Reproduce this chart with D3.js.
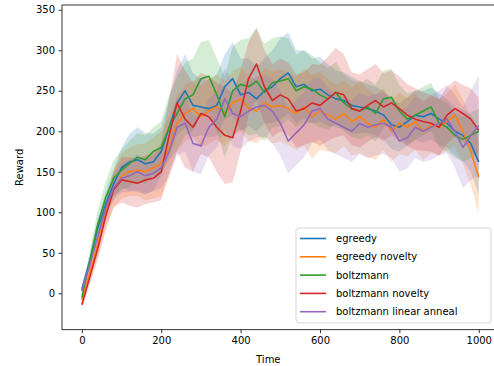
<!DOCTYPE html>
<html>
<head>
<meta charset="utf-8">
<script src="https://cdn.jsdelivr.net/npm/d3@7"></script>
<style>
  body { margin: 0; background: #fff; }
  svg text { font-family: "DejaVu Sans", sans-serif; }
</style>
</head>
<body>
<svg id="chart" width="494" height="366"></svg>
<script>
// time steps (every 20)
const steps = d3.range(0, 1001, 20);

const seriesNames = ["egreedy", "egreedy novelty", "boltzmann", "boltzmann novelty", "boltzmann linear anneal"];
const colors = ["#1f77b4", "#ff7f0e", "#2ca02c", "#d62728", "#9467bd"];

// mean reward
const egreedy = [5,40,80,110,135,155,162,165,160,162,175,205,235,250,232,230,228,232,255,265,245,248,240,250,255,265,272,255,258,250,252,245,240,238,232,230,228,225,220,208,205,212,220,218,222,215,210,200,195,185,162];
const egreedyNovelty = [-8,25,60,100,128,145,150,152,150,155,160,180,210,222,228,218,225,230,222,235,240,228,225,235,230,232,228,222,230,218,225,220,215,222,212,218,210,205,215,200,210,205,212,200,208,205,212,220,200,175,143];
const boltzmann = [-5,40,85,118,142,152,160,168,165,175,180,205,222,240,245,265,268,245,218,250,258,255,262,248,260,262,265,250,255,252,245,240,248,235,228,225,230,222,240,242,225,215,220,225,230,210,205,195,190,195,200];
const boltzmannNovelty = [-14,20,55,95,128,140,138,136,140,142,150,195,235,215,205,222,218,205,195,192,225,265,283,255,238,245,240,225,228,235,232,240,248,245,228,225,232,238,230,235,228,220,215,212,210,205,220,228,222,215,201];
const boltzmannLinear = [3,35,70,105,130,142,145,150,145,148,155,175,205,210,185,182,205,215,240,222,218,225,230,232,225,210,188,198,208,225,228,215,210,205,200,210,205,208,210,205,188,192,205,200,205,210,215,200,180,195,207];

// half width of the shaded band
const egreedySpread = [4,8,12,15,18,25,35,40,38,35,30,35,40,45,40,35,35,38,40,45,45,42,40,40,45,50,50,45,42,40,40,38,35,35,35,32,30,30,30,30,30,30,30,32,32,32,30,30,32,35,40];
const egreedyNoveltySpread = [5,10,14,18,22,28,30,32,35,38,40,38,35,35,35,38,40,40,40,40,40,40,40,42,45,45,45,45,48,52,48,45,42,40,42,45,42,40,38,38,38,36,35,35,35,35,35,38,40,42,45];
const boltzmannSpread = [5,12,18,20,22,25,28,30,30,30,32,40,45,45,45,45,45,45,50,55,55,60,65,60,55,55,50,45,45,42,40,38,38,35,35,35,35,35,35,35,32,32,30,30,30,30,30,28,28,28,28];
const boltzmannNoveltySpread = [6,10,14,18,22,28,30,30,30,30,35,45,60,60,55,50,50,55,60,55,50,45,45,45,45,45,45,45,45,48,50,52,55,50,45,45,45,45,42,40,40,38,38,36,35,35,35,35,35,38,40];
const boltzmannLinearSpread = [5,8,10,12,15,18,20,22,22,22,25,30,35,35,35,35,35,35,38,40,40,38,38,38,40,40,40,40,40,40,38,38,38,38,38,38,38,38,38,38,38,38,38,38,40,40,42,45,50,55,62];

const xTicks = [0, 200, 400, 600, 800, 1000];
const yTicks = [0, 50, 100, 150, 200, 250, 300, 350];

const means = [egreedy, egreedyNovelty, boltzmann, boltzmannNovelty, boltzmannLinear];
const spreads = [egreedySpread, egreedyNoveltySpread, boltzmannSpread, boltzmannNoveltySpread, boltzmannLinearSpread];

const axLeft = 62, axTop = 5, axRight = 498.6, axBottom = 329.7;

const svg = d3.select("#chart");

const x = d3.scaleLinear().domain([-50, 1050]).range([axLeft, axRight]);
const y = d3.scaleLinear().domain([-44.9, 355.9]).range([axBottom, axTop]);

const data = means.map((m, i) => steps.map((t, j) => ({t: t, v: m[j], s: spreads[i][j]})));

const area = d3.area()
  .x(d => x(d.t))
  .y0(d => y(d.v - d.s))
  .y1(d => y(d.v + d.s));

const line = d3.line()
  .x(d => x(d.t))
  .y(d => y(d.v));

const plot = svg.append("g");

data.forEach((d, i) => {
  plot.append("path").datum(d)
    .attr("d", area)
    .attr("fill", colors[i])
    .attr("fill-opacity", 0.2)
    .attr("stroke", "none");
});
data.forEach((d, i) => {
  plot.append("path").datum(d)
    .attr("d", line)
    .attr("fill", "none")
    .attr("stroke", colors[i])
    .attr("stroke-width", 1.6)
    .attr("stroke-linejoin", "round");
});

// axes
const xAxis = svg.append("g")
  .attr("transform", "translate(0," + axBottom + ")")
  .call(d3.axisBottom(x).tickValues(xTicks).tickFormat(d3.format("d")).tickSize(3.5).tickPadding(3.5));
const yAxis = svg.append("g")
  .attr("transform", "translate(" + axLeft + ",0)")
  .call(d3.axisLeft(y).tickValues(yTicks).tickFormat(d3.format("d")).tickSize(3.5).tickPadding(3.5));

[xAxis, yAxis].forEach(a => {
  a.selectAll("text").attr("font-size", "10px").attr("fill", "#000")
    .attr("font-family", "DejaVu Sans, sans-serif");
  a.selectAll("line").attr("stroke", "#000").attr("stroke-width", 0.8);
  a.select(".domain").remove();
});

// spines
svg.append("rect")
  .attr("x", axLeft).attr("y", axTop)
  .attr("width", axRight - axLeft).attr("height", axBottom - axTop)
  .attr("fill", "none").attr("stroke", "#000").attr("stroke-width", 0.8);

svg.append("text")
  .attr("x", (axLeft + axRight) / 2 - 12).attr("y", 363)
  .attr("text-anchor", "middle").attr("font-size", "10px")
  .text("Time");
svg.append("text")
  .attr("transform", "translate(23," + ((axTop + axBottom) / 2) + ") rotate(-90)")
  .attr("text-anchor", "middle").attr("font-size", "10px")
  .text("Reward");

// legend
const legend = svg.append("g");
legend.append("rect")
  .attr("x", 296).attr("y", 228)
  .attr("width", 195).attr("height", 95)
  .attr("rx", 3)
  .attr("fill", "#fff").attr("fill-opacity", 0.8)
  .attr("stroke", "#cccccc").attr("stroke-width", 0.8);

seriesNames.forEach((name, i) => {
  const cy = 238.5 + i * 18.3;
  legend.append("line")
    .attr("x1", 300).attr("x2", 326)
    .attr("y1", cy).attr("y2", cy)
    .attr("stroke", colors[i]).attr("stroke-width", 1.6);
  legend.append("text")
    .attr("x", 336).attr("y", cy + 3.6)
    .attr("font-size", "10px")
    .text(name);
});
</script>
</body>
</html>
